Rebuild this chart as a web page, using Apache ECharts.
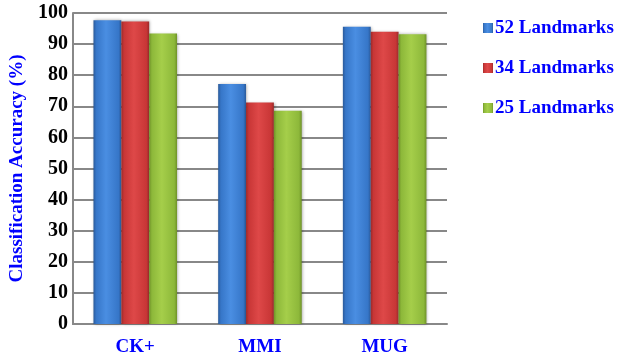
<!DOCTYPE html>
<html>
<head>
<meta charset="utf-8">
<script src="https://cdn.jsdelivr.net/npm/echarts@6/dist/echarts.min.js"></script>
<style>
  html, body { margin: 0; padding: 0; background: #fff; }
  #chart { width: 620px; height: 361px; }
</style>
</head>
<body>
<div id="chart"></div>
<script>
// Classification accuracy per dataset for three landmark configurations
const categories = ['CK+', 'MMI', 'MUG'];
const seriesNames = ['52 Landmarks', '34 Landmarks', '25 Landmarks'];
const acc52 = [97.7, 77.2, 95.6];
const acc34 = [97.3, 71.2, 94.0];
const acc25 = [93.4, 68.6, 93.2];
const yTicks = { min: 0, max: 100, step: 10 };

const FONT = '"Liberation Serif", "DejaVu Serif", serif';
const TEXT_BLUE = '#0000ff';

// bevel-like shading: dark edges, bright centre
function shade(edge, mid, light) {
  return new echarts.graphic.LinearGradient(0, 0, 1, 0, [
    { offset: 0, color: edge },
    { offset: 0.1, color: mid },
    { offset: 0.45, color: light },
    { offset: 0.9, color: mid },
    { offset: 1, color: edge }
  ]);
}
const fills = [
  shade('#2a5a9a', '#3676c8', '#4a8ee2'),
  shade('#9a2a2a', '#c83636', '#de4848'),
  shade('#6f9228', '#8db83a', '#a5ce4a')
];
const legendColors = ['#2f6fbd', '#c23434', '#8db43a'];
const values = [acc52, acc34, acc25];

const chart = echarts.init(document.getElementById('chart'), null, { renderer: 'canvas' });
chart.setOption({
  animation: false,
  backgroundColor: '#ffffff',
  color: legendColors,
  grid: { left: 68, right: 173, top: 13, bottom: 37, containLabel: false },
  legend: {
    orient: 'vertical',
    left: 478,
    top: 13,
    itemGap: 20,
    itemWidth: 10,
    itemHeight: 10,
    icon: 'rect',
    data: seriesNames,
    textStyle: { fontFamily: FONT, fontWeight: 'bold', fontSize: 19, lineHeight: 20, color: TEXT_BLUE, padding: [0, 0, 0, -3] }
  },
  xAxis: {
    type: 'category',
    data: categories,
    axisLine: { lineStyle: { color: '#888', width: 2 } },
    axisTick: { show: false },
    axisLabel: { fontFamily: FONT, fontWeight: 'bold', fontSize: 19, color: TEXT_BLUE, margin: 14 }
  },
  yAxis: {
    type: 'value',
    min: yTicks.min,
    max: yTicks.max,
    interval: yTicks.step,
    name: 'Classification Accuracy (%)',
    nameLocation: 'middle',
    nameGap: 39,
    nameTextStyle: { fontFamily: FONT, fontWeight: 'bold', fontSize: 19, color: TEXT_BLUE },
    axisLine: { show: true, lineStyle: { color: '#888', width: 2 } },
    axisTick: { show: false },
    splitLine: { lineStyle: { color: '#888', width: 2 } },
    axisLabel: { fontFamily: FONT, fontWeight: 'bold', fontSize: 20, color: '#000', margin: 5 }
  },
  series: seriesNames.map((name, i) => ({
    name,
    type: 'bar',
    data: values[i],
    barGap: '0%',
    barCategoryGap: '33%',
    itemStyle: {
      color: fills[i],
      shadowBlur: 3,
      shadowColor: 'rgba(0,0,0,0.35)',
      shadowOffsetX: 1
    }
  }))
});
</script>
</body>
</html>
